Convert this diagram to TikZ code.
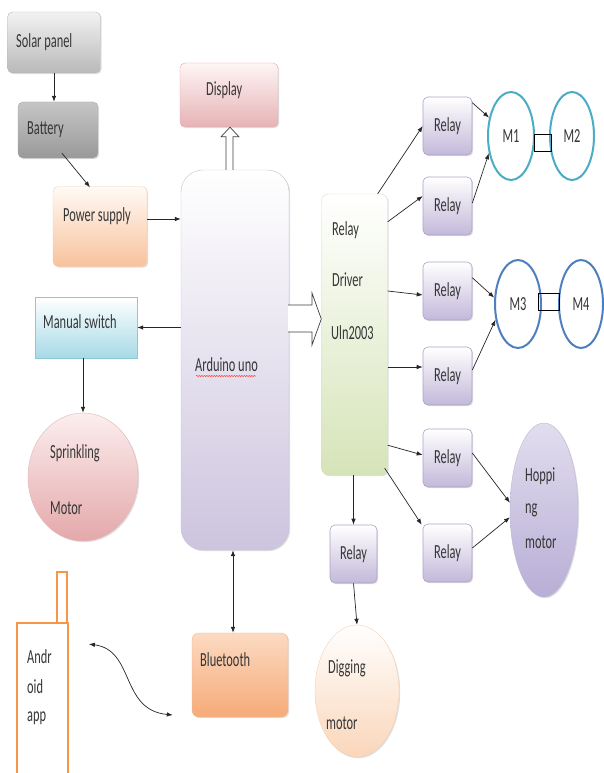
\documentclass[tikz,border=0pt]{standalone}
\usepackage{fontspec}
\setmainfont{Carlito}[FakeStretch=0.62]
\usepackage{graphicx}
\usetikzlibrary{arrows.meta,calc,shapes.geometric,shadows,decorations.pathmorphing}
\definecolor{txt}{HTML}{363636}
\definecolor{lav}{HTML}{C3B8DA}
\definecolor{lavd}{HTML}{ADA2C6}
\definecolor{peach}{HTML}{F8C29C}
\definecolor{teal1}{HTML}{4BACC6}
\definecolor{blue1}{HTML}{4F7FBF}
\definecolor{orng}{HTML}{F79646}
\newcommand\tx[1]{#1}
\begin{document}
\begin{tikzpicture}[x=1pt,y=-1pt,
  every node/.style={font=\fontsize{20}{22}\selectfont, text=txt},
  sh/.style={drop shadow={shadow xshift=1.2pt,shadow yshift=-1.2pt,opacity=0.25}},
  bx/.style={rectangle, rounded corners=5pt, inner sep=0pt, sh},
  relaybox/.style={bx, minimum width=49pt, minimum height=58pt, top color=white, bottom color=lav, draw=lavd, line width=0.6pt},
  motorel/.style={ellipse, inner sep=0pt, minimum width=46pt, minimum height=88pt, fill=white, line width=2pt},
  lbl/.style={anchor=west, inner sep=0pt},
  arr/.style={-{Latex[length=6pt,width=4.5pt]}, line width=0.7pt, draw=black!85},
  arr2/.style={{Latex[length=6pt,width=4.5pt]}-{Latex[length=6pt,width=4.5pt]}, line width=0.7pt, draw=black!85}]
\useasboundingbox (0,0) rectangle (603,773);
\fill[white] (0,0) rectangle (603,773);

% left column
\node[bx, minimum width=93pt, minimum height=61pt, top color=gray!10, bottom color=gray!55, draw=gray!55] (solar) at (54,42.5) {};
\node[lbl] (solart) at (16,42) {\tx{Solar panel}};
\node[bx, minimum width=80pt, minimum height=56pt, top color=gray!45, bottom color=gray!80, draw=gray!70] (bat) at (58,130) {};
\node[lbl] (batt) at (27,130) {\tx{Battery}};
\node[bx, minimum width=94pt, minimum height=80pt, top color=orange!4, bottom color=peach, draw=peach!80] (pow) at (100,226.5) {};
\node[lbl] (powt) at (63,216) {\tx{Power supply}};
\node[bx, minimum width=98pt, minimum height=64pt, top color=red!4, bottom color={rgb,255:red,230;green,179;blue,181}, draw={rgb,255:red,222;green,170;blue,172}] (disp) at (229,95) {};
\node[lbl] (dispt) at (206,90) {\tx{Display}};
\node[bx, rounded corners=22pt, minimum width=108pt, minimum height=380pt, top color=white, bottom color={rgb,255:red,205;green,196;blue,222}, draw={rgb,255:red,200;green,192;blue,216}] (ard) at (235,360) {};
\node[lbl] (ardt) at (195,365) {\tx{Arduino uno}};
\draw[red!80, line width=0.5pt, decorate, decoration={snake, amplitude=0.6pt, segment length=2.5pt}] (196,376) -- (256,376);
\node[rectangle, inner sep=0pt, sh, minimum width=102pt, minimum height=61pt, top color=white, bottom color={rgb,255:red,166;green,218;blue,230}, draw={rgb,255:red,140;green,200;blue,216}] (man) at (86,327.5) {};
\node[lbl] (mant) at (43,322) {\tx{Manual switch}};
\node[ellipse, inner sep=0pt, sh, minimum width=110pt, minimum height=128pt, top color={rgb,255:red,252;green,238;blue,238}, bottom color={rgb,255:red,228;green,168;blue,170}, draw={rgb,255:red,228;green,180;blue,182}] (spr) at (83,477) {};
\node[lbl] (sprt1) at (50,453) {\tx{Sprinkling}};
\node[lbl] (sprt2) at (50,508) {\tx{Motor}};

% relay driver
\node[bx, rounded corners=7pt, minimum width=66pt, minimum height=281pt, top color=white, bottom color={rgb,255:red,214;green,228;blue,184}, draw={rgb,255:red,214;green,226;blue,190}] (drv) at (354.5,334.5) {};
\node[lbl] (drvt1) at (332,230) {\tx{Relay}};
\node[lbl] (drvt2) at (332,280) {\tx{Driver}};
\node[lbl] (drvt3) at (331,333) {\tx{Uln2003}};

% relays
\node[relaybox] (r1) at (447.5,126) {\tx{Relay}};
\node[relaybox] (r2) at (447.5,206) {\tx{Relay}};
\node[relaybox] (r3) at (447.5,291) {\tx{Relay}};
\node[relaybox] (r4) at (447.5,376) {\tx{Relay}};
\node[relaybox] (r5) at (447.5,458) {\tx{Relay}};
\node[relaybox] (r6) at (447.5,553) {\tx{Relay}};
\node[relaybox, minimum width=47pt] (r7) at (353.5,554) {\tx{Relay}};

% motors
\node[motorel, draw=teal1] (m1) at (511,136) {\tx{M1}};
\node[motorel, draw=teal1, minimum width=44pt] (m2) at (572,136) {\tx{M2}};
\node[motorel, draw=blue1] (m3) at (518,304) {\tx{M3}};
\node[motorel, draw=blue1, minimum width=44pt] (m4) at (581,304) {\tx{M4}};
\draw[line width=0.8pt] ($(m1.east)+(-1,-2)$) rectangle ($(m2.west)+(2,15)$);
\draw[line width=0.8pt] ($(m3.east)+(-4,-11)$) rectangle ($(m4.west)+(1,6)$);

\node[ellipse, inner sep=0pt, sh, minimum width=68pt, minimum height=174pt, top color={rgb,255:red,226;green,221;blue,238}, bottom color={rgb,255:red,184;green,174;blue,214}, draw={rgb,255:red,190;green,182;blue,216}] (hop) at (544,510) {};
\node[lbl] (hopt1) at (525,476) {\tx{Hoppi}};
\node[lbl] (hopt2) at (525,510) {\tx{ng}};
\node[lbl] (hopt3) at (525,542) {\tx{motor}};

\node[ellipse, inner sep=0pt, sh, minimum width=84pt, minimum height=132pt, top color=white, bottom color={rgb,255:red,250;green,214;blue,186}, draw={rgb,255:red,246;green,210;blue,182}] (dig) at (357,691) {};
\node[lbl] (digt1) at (328,668) {\tx{Digging}};
\node[lbl] (digt2) at (326,723) {\tx{motor}};

\node[bx, rounded corners=7pt, minimum width=96pt, minimum height=84pt, top color={rgb,255:red,252;green,218;blue,194}, bottom color={rgb,255:red,246;green,170;blue,120}, draw={rgb,255:red,246;green,182;blue,140}] (bt) at (240,675) {};
\node[lbl] (btt) at (200,660) {\tx{Bluetooth}};

% android app
\node[rectangle, inner sep=0pt, minimum width=51pt, minimum height=156pt, draw=orng, line width=1.8pt] (and) at (42.5,701) {};
\node[rectangle, inner sep=0pt, minimum width=10pt, minimum height=51pt, draw=orng, line width=1.5pt] (ant) at (62,597.5) {};
\node[lbl] (andt1) at (27,657) {\tx{Andr}};
\node[lbl] (andt2) at (27,687) {\tx{oid}};
\node[lbl] (andt3) at (27,718) {\tx{app}};

% connectors
\draw[arr] (solar.south) -- (solar.south |- bat.north);
\draw[arr] ($(bat.south)+(4,-5)$) -- ($(pow.north)+(-10,1)$);
\draw[arr] (pow.east |- 0,219) -- (ard.west |- 0,219);
\draw[arr] (ard.west |- man.east) -- (man.east);
\draw[arr] (man.south -| spr.north) -- (spr.north);
\draw[arr2] (ard.south -| 233,0) -- (bt.north -| 233,0);
\draw[arr2] ($(and.north east)+(20,22)$) .. controls (135,650) and (120,710) .. ($(bt.west)+(-19,40)$);

% hollow arrows
\draw[line width=0.7pt, draw=black!75, fill=white]
  ($(ard.north)+(-9,0)$) -- ($(ard.north)+(-9,-33)$) -- ($(ard.north)+(-14,-33)$) -- ($(disp.south)+(1,0)$)
  -- ($(ard.north)+(4,-33)$) -- ($(ard.north)+(-2,-33)$) -- ($(ard.north)+(-2,0)$);
\draw[line width=0.7pt, draw=black!75, fill=white]
  ($(ard.east |- 0,305)+(-1,0)$) -- (312,305) -- (312,293) -- (drv.west |- 0,319) -- (312,345) -- (312,332) -- ($(ard.east |- 0,332)+(-1,0)$);

\draw[arr] ($(drv.north east)+(-10,0)$) -- (r1.west);
\draw[arr] ($(drv.north east)+(0,28)$) -- ($(r2.west)+(0,-10)$);
\draw[arr] (drv.east |- r3.west) -- ($(r3.west)+(0,4)$);
\draw[arr] (drv.east |- 0,367) -- (r4.west |- 0,367);
\draw[arr] ($(drv.south east)+(0,-30)$) -- ($(r5.west)+(0,-3)$);
\draw[arr] ($(drv.south east)+(-3,-7)$) -- ($(r6.north west)+(-1,1)$);
\draw[arr] (drv.south -| r7.north) -- (r7.north);
\draw[arr] (r7.south) -- (dig.north);

\draw[arr] ($(r1.north east)+(0,6)$) -- (m1.140);
\draw[arr] ($(r2.east)+(0,-3)$) -- (m1.218);
\draw[arr] ($(r3.north east)+(0,16)$) -- (m3.165);
\draw[arr] ($(r4.east)+(0,-6)$) -- (m3.215);
\draw[arr] ($(r5.east)+(0,-5)$) -- (hop.168);
\draw[arr] ($(r6.east)+(0,-5)$) -- (hop.192);
\end{tikzpicture}
\end{document}
